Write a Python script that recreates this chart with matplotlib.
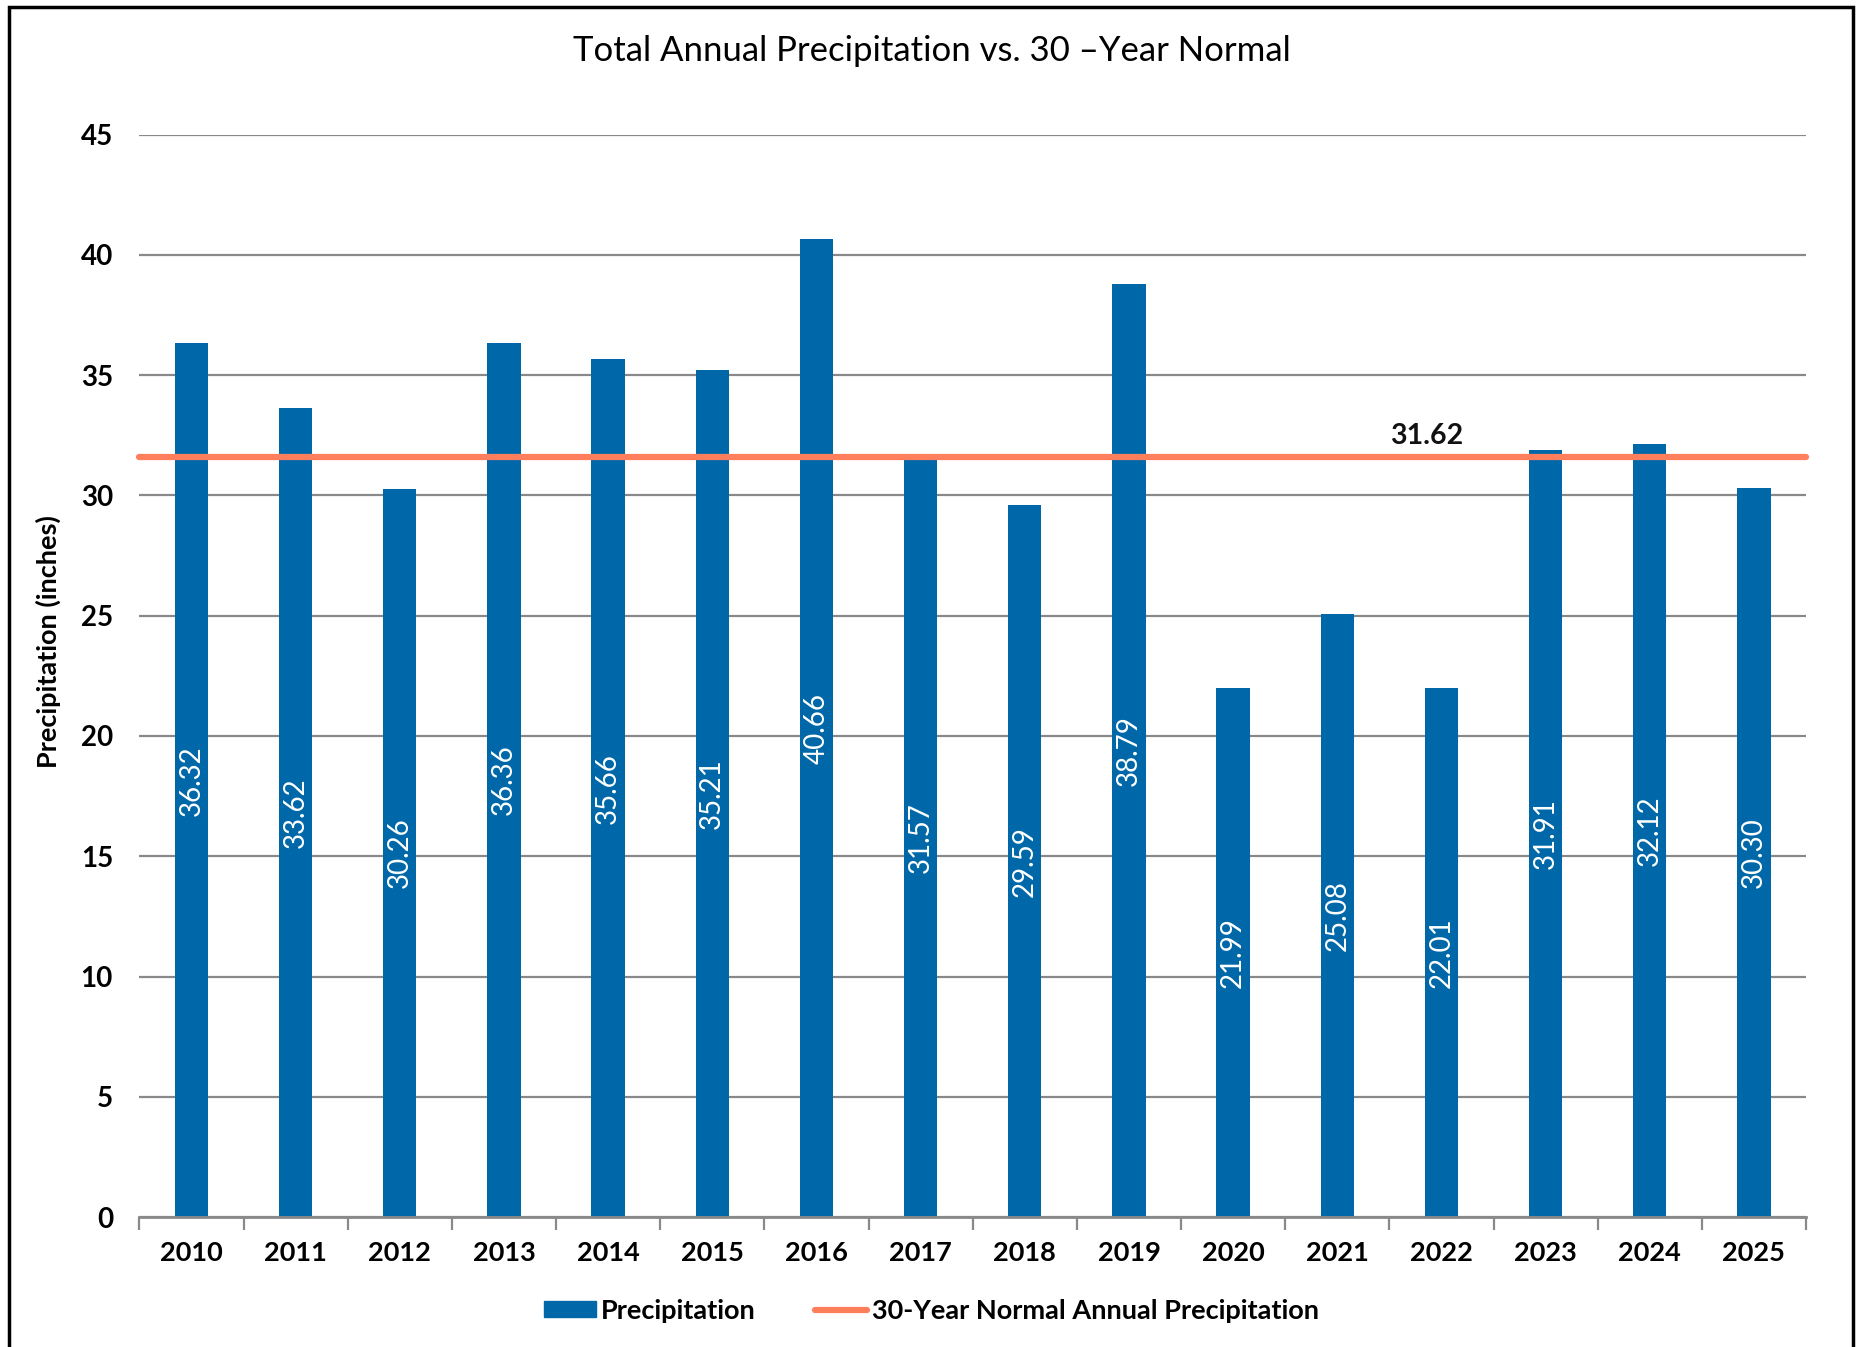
import matplotlib
matplotlib.use('Agg')
import matplotlib.pyplot as plt
from matplotlib.patches import Rectangle
from matplotlib.lines import Line2D
from matplotlib.patches import Patch

plt.rcParams['font.family'] = ['Lato', 'DejaVu Sans']

years = ['2010', '2011', '2012', '2013', '2014', '2015', '2016', '2017',
         '2018', '2019', '2020', '2021', '2022', '2023', '2024', '2025']
precip = [36.32, 33.62, 30.26, 36.36, 35.66, 35.21, 40.66, 31.57,
          29.59, 38.79, 21.99, 25.08, 22.01, 31.91, 32.12, 30.30]
normal = 31.62

bar_color = '#0068a8'
line_color = '#ff7f5c'
grid_color = '#898989'

fig = plt.figure(figsize=(18.69, 13.47), dpi=100)
ax = fig.add_axes([0.0746, 0.0965, 0.8917, 0.8035])

x = list(range(len(years)))
ax.bar(x, precip, width=0.32, color=bar_color, zorder=2)
for xi, v in zip(x, precip):
    ax.text(xi, v / 2, '%.2f' % v, rotation=90, ha='center', va='center',
            color='white', fontsize=20, zorder=4)

ax.set_xlim(-0.5, len(years) - 0.5)
ax.plot([-0.5, len(years) - 0.5], [normal, normal], color=line_color,
        lw=4.5, solid_capstyle='round', zorder=3, clip_on=False)
ax.text(11.86, normal + 0.3, '%.2f' % normal, ha='center', va='bottom',
        fontsize=20.5, fontweight='bold', color='#111111')

ax.set_ylim(0, 45)
ax.set_yticks(range(0, 46, 5))
ax.yaxis.grid(True, color=grid_color, lw=1.6, zorder=0)
ax.set_axisbelow(True)
ax.tick_params(axis='y', length=0, pad=19, labelsize=20)
for lab in ax.get_yticklabels():
    lab.set_fontweight('bold')

# category labels at centres, tick marks at boundaries
ax.set_xticks(x)
ax.set_xticklabels(years, fontsize=19.5, fontweight='bold')
ax.tick_params(axis='x', which='major', length=0, pad=17)
ax.set_xticks([i - 0.5 for i in range(len(years) + 1)], minor=True)
ax.tick_params(axis='x', which='minor', length=9, width=1.6, color=grid_color)

for s in ['top', 'right', 'left']:
    ax.spines[s].set_visible(False)
ax.spines['bottom'].set_color(grid_color)
ax.spines['bottom'].set_linewidth(2)

ax.set_ylabel('Precipitation (inches)', fontsize=19.5, fontweight='bold')
ax.yaxis.set_label_coords(-0.047, 0.532)
fig.text(0.4985, 0.962, 'Total Annual Precipitation vs. 30 \u2013Year Normal',
         ha='center', va='center', fontsize=25)

handles = [Patch(color=bar_color, label='Precipitation'),
           Line2D([], [], color=line_color, lw=4.5, solid_capstyle='round',
                  label='30-Year Normal Annual Precipitation')]
leg = fig.legend(handles=handles, loc='center', bbox_to_anchor=(0.4985, 0.027),
                 ncol=2, frameon=False, handlelength=1.9, handleheight=0.5,
                 columnspacing=2.2, handletextpad=0.2,
                 prop={'size': 19.5, 'weight': 'bold'})

fig.patches.append(Rectangle((0.0048, -0.05), 0.9915 - 0.0048, 0.9948 + 0.05,
                             transform=fig.transFigure, fill=False,
                             edgecolor='black', lw=2.5))

plt.savefig('out.png', dpi=100)
